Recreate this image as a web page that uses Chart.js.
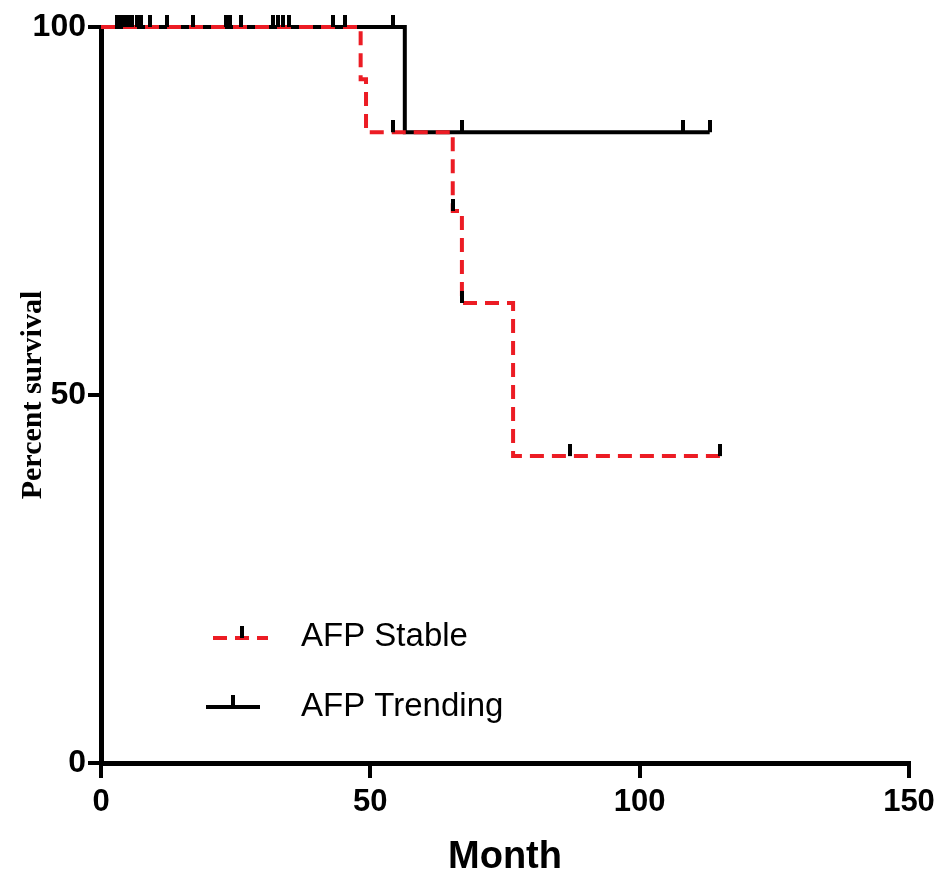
<!DOCTYPE html>
<html lang="en">
<head>
  <meta charset="UTF-8">
  <title>Percent survival by AFP group</title>
  <script src="https://cdn.jsdelivr.net/npm/chart.js"></script>
  <style>
    html, body {
      margin: 0;
      padding: 0;
      background: #fff;
    }
    #wrap {
      width: 946px;
      height: 877px;
    }
  </style>
</head>
<body>
  <div id="wrap"><canvas id="kmChart" width="946" height="877"></canvas></div>

  <script>
    // Kaplan-Meier steps: time of each drop (months) and survival after it (%)
    const stableTime = [0, 48.2, 49.2, 65.3, 67.0, 76.5, 115];
    const stableSurvival = [100, 92.9, 85.7, 75.0, 62.5, 41.7, 41.7];
    const trendingTime = [0, 56.4, 113];
    const trendingSurvival = [100, 85.7, 85.7];

    // censored patients (tick marks)
    const stableCensorTime = [3.0, 4.3, 5.8, 7.4, 12.3, 23.2, 26.0, 32.9, 34.9, 45.3, 54.2, 65.3, 67.0, 87, 115];
    const stableCensorSurvival = [100, 100, 100, 100, 100, 100, 100, 100, 100, 100, 85.7, 75.0, 62.5, 41.7, 41.7];
    const trendingCensorTime = [3.7, 5.0, 6.7, 9.1, 17.1, 23.9, 31.9, 33.8, 43.1, 54.2, 67.0, 108, 113];
    const trendingCensorSurvival = [100, 100, 100, 100, 100, 100, 100, 100, 100, 100, 85.7, 85.7, 85.7];

    const xTicks = [0, 50, 100, 150];
    const yTicks = [0, 50, 100];
    const seriesNames = ['AFP Stable', 'AFP Trending'];

    const RED = '#ec1c24';
    const DASH = [14, 8];

    const toPoints = (xs, ys) => xs.map((x, i) => ({ x: x, y: ys[i] }));

    // small upward tick used as the censor marker
    const tick = document.createElement('canvas');
    tick.width = 4;
    tick.height = 24;
    const tctx = tick.getContext('2d');
    tctx.fillStyle = '#000';
    tctx.fillRect(0, 0, 4, 12);

    const legendInside = {
      id: 'legendInside',
      afterDraw(chart) {
        const ctx = chart.ctx;
        ctx.save();
        ctx.lineWidth = 4;
        // AFP Stable sample
        ctx.strokeStyle = RED;
        ctx.setLineDash(DASH);
        ctx.beginPath();
        ctx.moveTo(213, 638);
        ctx.lineTo(268, 638);
        ctx.stroke();
        // AFP Trending sample
        ctx.setLineDash([]);
        ctx.strokeStyle = '#000';
        ctx.beginPath();
        ctx.moveTo(206, 707);
        ctx.lineTo(260, 707);
        ctx.stroke();
        ctx.drawImage(tick, 240, 626);
        ctx.drawImage(tick, 231, 695);

        ctx.fillStyle = '#000';
        ctx.font = '33px "Liberation Sans", Arial, sans-serif';
        ctx.textBaseline = 'middle';
        ctx.fillText(seriesNames[0], 301, 637);
        ctx.fillText(seriesNames[1], 301, 707);
        ctx.restore();
      }
    };

    const tickFont = { family: '"Liberation Sans", Arial, sans-serif', size: 31, weight: 'bold' };

    new Chart(document.getElementById('kmChart'), {
      type: 'scatter',
      data: {
        datasets: [
          {
            label: seriesNames[0] + ' censored',
            data: toPoints(stableCensorTime, stableCensorSurvival),
            pointStyle: tick,
            pointRadius: 6,
            showLine: false,
            clip: false,
            order: 0
          },
          {
            label: seriesNames[1] + ' censored',
            data: toPoints(trendingCensorTime, trendingCensorSurvival),
            pointStyle: tick,
            pointRadius: 6,
            showLine: false,
            clip: false,
            order: 0
          },
          {
            label: seriesNames[0],
            data: toPoints(stableTime, stableSurvival),
            showLine: true,
            stepped: 'before',
            borderColor: RED,
            borderWidth: 4,
            borderDash: DASH,
            pointRadius: 0,
            clip: false,
            order: 1
          },
          {
            label: seriesNames[1],
            data: toPoints(trendingTime, trendingSurvival),
            showLine: true,
            stepped: 'before',
            borderColor: '#000',
            borderWidth: 4,
            pointRadius: 0,
            clip: false,
            order: 2
          }
        ]
      },
      options: {
        responsive: false,
        animation: false,
        layout: { padding: { top: 27, right: 37, bottom: 0, left: 0 } },
        plugins: {
          legend: { display: false },
          tooltip: { enabled: false }
        },
        scales: {
          x: {
            type: 'linear',
            min: 0,
            max: 150,
            afterBuildTicks: scale => { scale.ticks = xTicks.map(v => ({ value: v })); },
            afterFit: scale => { scale.height = 114; },
            border: { display: true, color: '#000', width: 5 },
            grid: { drawOnChartArea: false, drawTicks: true, tickLength: 15, lineWidth: 4, color: '#000' },
            ticks: { color: '#000', font: tickFont, padding: 6, maxRotation: 0 },
            title: {
              display: true,
              text: 'Month',
              color: '#000',
              font: { family: '"Liberation Sans", Arial, sans-serif', size: 38, weight: 'bold', lineHeight: 1.0 },
              padding: { top: 0, bottom: 0 }
            }
          },
          y: {
            type: 'linear',
            min: 0,
            max: 100,
            afterBuildTicks: scale => { scale.ticks = yTicks.map(v => ({ value: v })); },
            afterFit: scale => { scale.width = 101; },
            border: { display: true, color: '#000', width: 5 },
            grid: { drawOnChartArea: false, drawTicks: true, tickLength: 13, lineWidth: 4, color: '#000' },
            ticks: { color: '#000', font: Object.assign({}, tickFont, { size: 32 }), padding: 2 },
            title: {
              display: true,
              text: 'Percent survival',
              color: '#000',
              font: { family: '"Liberation Serif", "Times New Roman", serif', size: 30, weight: 'bold', lineHeight: 1.2 },
              padding: { top: 15, bottom: 0 }
            }
          }
        }
      },
      plugins: [legendInside]
    });
  </script>
</body>
</html>
